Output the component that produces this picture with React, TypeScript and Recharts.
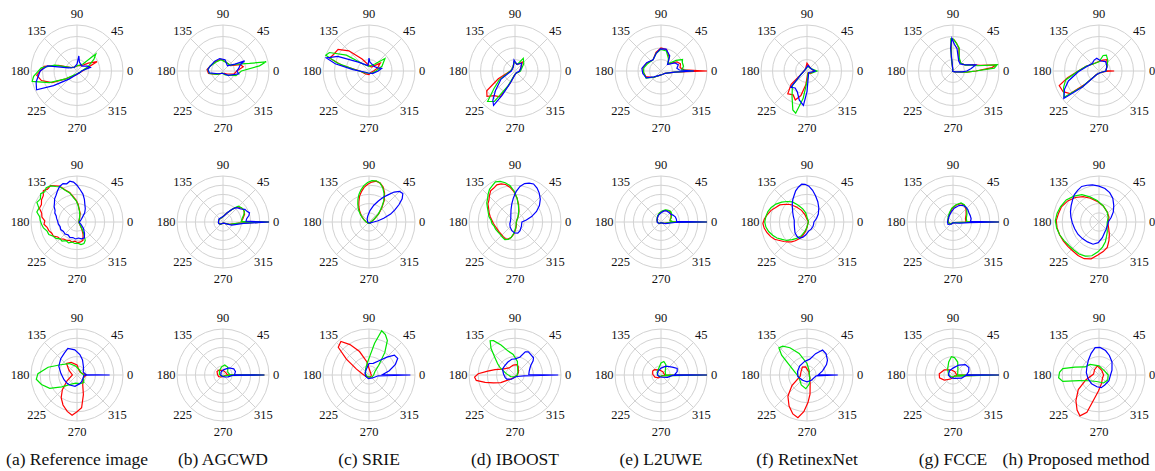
import React from "react";
import { RadarChart, Radar, PolarGrid, PolarAngleAxis, PolarRadiusAxis } from "recharts";

// each point: [angle in degrees, radius as share of the outer ring]
type Pt = [number, number];

const CAPTIONS = [
  "(a) Reference image",
  "(b) AGCWD",
  "(c) SRIE",
  "(d) IBOOST",
  "(e) L2UWE",
  "(f) RetinexNet",
  "(g) FCCE",
  "(h) Proposed method",
];
const ANGLE_TICKS = [0, 45, 90, 135, 180, 225, 270, 315];
const RINGS_TOP = [0.25, 0.5, 0.75, 1];
const RINGS = [0.2, 0.4, 0.6, 0.8, 1];

// ---- row 1 ----
const a1Red: Pt[] = [[0,0.12],[15,0.2],[25,0.48],[35,0.3],[50,0.15],[80,0.12],[120,0.1],[150,0.15],[163,0.42],[172,0.72],[180,0.8],[186,0.88],[195,0.8],[205,0.6],[215,0.3],[230,0.15],[260,0.08],[300,0.06],[340,0.08]];
const a1Green: Pt[] = [[0,0.1],[20,0.25],[35,0.45],[42,0.55],[50,0.2],[80,0.12],[120,0.1],[150,0.15],[165,0.5],[175,0.78],[187,0.95],[193,1.0],[203,0.65],[215,0.3],[230,0.12],[270,0.06],[320,0.06]];
const a1Blue: Pt[] = [[0,0.1],[15,0.3],[25,0.25],[45,0.15],[75,0.2],[83,0.33],[90,0.15],[130,0.1],[160,0.2],[170,0.65],[180,0.8],[195,0.92],[205,0.97],[212,0.6],[225,0.25],[250,0.1],[300,0.06],[340,0.08]];

const b1Red: Pt[] = [[0,0.3],[12,0.45],[20,0.4],[35,0.2],[70,0.2],[100,0.26],[130,0.26],[160,0.3],[175,0.35],[190,0.32],[210,0.15],[260,0.05],[320,0.1],[345,0.25]];
const b1Green: Pt[] = [[0,0.4],[8,0.8],[12,0.96],[16,0.6],[25,0.35],[40,0.2],[70,0.2],[100,0.25],[130,0.25],[160,0.3],[175,0.33],[190,0.3],[210,0.15],[250,0.05],[300,0.1],[340,0.3]];
const b1Blue: Pt[] = [[0,0.3],[10,0.35],[20,0.4],[25,0.52],[30,0.3],[50,0.15],[80,0.25],[105,0.28],[130,0.28],[160,0.3],[174,0.33],[188,0.3],[210,0.12],[260,0.05],[320,0.15],[350,0.35]];

const c1Red: Pt[] = [[0,0.1],[20,0.2],[35,0.3],[60,0.1],[90,0.12],[120,0.3],[135,0.62],[145,0.82],[155,0.85],[162,0.9],[168,0.6],[180,0.2],[220,0.1],[270,0.08],[320,0.05]];
const c1Green: Pt[] = [[0,0.15],[20,0.3],[38,0.44],[50,0.2],[90,0.1],[130,0.2],[145,0.6],[155,0.95],[160,1.0],[166,0.7],[175,0.3],[200,0.1],[260,0.05],[320,0.08]];
const c1Blue: Pt[] = [[0,0.2],[12,0.28],[20,0.2],[40,0.15],[85,0.2],[90,0.28],[100,0.12],[140,0.3],[155,0.75],[163,0.97],[168,0.75],[175,0.35],[200,0.08],[260,0.05],[330,0.1]];

const d1Red: Pt[] = [[0,0.1],[30,0.15],[50,0.25],[70,0.15],[95,0.2],[130,0.08],[180,0.1],[205,0.4],[215,0.75],[222,0.82],[230,0.7],[240,0.65],[248,0.3],[260,0.1],[300,0.05],[340,0.08]];
const d1Green: Pt[] = [[0,0.12],[40,0.25],[57,0.33],[70,0.15],[95,0.2],[130,0.08],[180,0.1],[210,0.4],[220,0.6],[228,0.89],[236,0.8],[245,0.35],[260,0.1],[300,0.05],[340,0.08]];
const d1Blue: Pt[] = [[0,0.1],[30,0.15],[50,0.22],[75,0.15],[95,0.24],[110,0.1],[180,0.08],[210,0.35],[225,0.6],[233,0.8],[238,0.88],[242,0.6],[250,0.25],[270,0.08],[320,0.05]];

const e1Red: Pt[] = [[0,1.0],[3,0.5],[10,0.42],[20,0.45],[30,0.4],[45,0.22],[60,0.35],[75,0.48],[90,0.5],[105,0.42],[125,0.3],[150,0.35],[170,0.4],[185,0.38],[200,0.35],[220,0.22],[250,0.1],[290,0.08],[330,0.1],[355,0.3]];
const e1Green: Pt[] = [[0,0.7],[3,0.45],[12,0.5],[22,0.5],[28,0.53],[35,0.4],[45,0.22],[60,0.32],[75,0.45],[90,0.47],[105,0.4],[125,0.3],[150,0.33],[170,0.38],[185,0.38],[205,0.36],[222,0.2],[250,0.1],[290,0.08],[330,0.1],[355,0.3]];
const e1Blue: Pt[] = [[0,0.72],[3,0.4],[10,0.35],[20,0.4],[30,0.35],[45,0.2],[60,0.38],[77,0.49],[92,0.48],[105,0.4],[125,0.3],[150,0.36],[172,0.42],[188,0.4],[205,0.35],[220,0.2],[250,0.1],[290,0.08],[330,0.1],[355,0.3]];

const f1Red: Pt[] = [[0,0.15],[40,0.1],[90,0.17],[130,0.05],[200,0.1],[220,0.45],[230,0.65],[240,0.6],[248,0.68],[256,0.55],[265,0.3],[290,0.05],[330,0.1]];
const f1Green: Pt[] = [[0,0.22],[20,0.12],[80,0.1],[140,0.05],[210,0.15],[225,0.45],[240,0.65],[250,0.9],[255,0.95],[262,0.6],[272,0.2],[300,0.05],[340,0.12]];
const f1Blue: Pt[] = [[0,0.18],[30,0.1],[80,0.12],[150,0.05],[210,0.15],[225,0.5],[235,0.45],[245,0.5],[255,0.65],[264,0.75],[270,0.45],[280,0.15],[320,0.05],[350,0.12]];

const g1Red: Pt[] = [[0,0.5],[5,0.85],[8,0.95],[12,0.6],[18,0.45],[25,0.3],[45,0.24],[65,0.3],[75,0.5],[82,0.6],[88,0.68],[93,0.7],[97,0.3],[100,0.02],[180,0.01],[270,0.01],[340,0.05],[355,0.3]];
const g1Green: Pt[] = [[0,0.5],[4,0.9],[8,0.97],[12,0.55],[18,0.42],[25,0.3],[45,0.24],[65,0.32],[75,0.52],[84,0.62],[90,0.7],[94,0.7],[97,0.3],[100,0.02],[180,0.01],[270,0.01],[340,0.05],[355,0.3]];
const g1Blue: Pt[] = [[0,0.3],[8,0.4],[15,0.51],[22,0.35],[30,0.28],[45,0.22],[60,0.25],[72,0.35],[80,0.5],[87,0.58],[92,0.71],[96,0.5],[98,0.02],[180,0.01],[270,0.01],[340,0.05],[355,0.2]];

const h1Red: Pt[] = [[0,0.33],[3,0.15],[30,0.2],[55,0.3],[70,0.25],[100,0.2],[130,0.2],[160,0.3],[180,0.45],[192,0.7],[200,0.92],[210,0.9],[218,0.8],[224,0.4],[235,0.1],[270,0.05],[320,0.05],[357,0.15]];
const h1Green: Pt[] = [[0,0.15],[30,0.2],[50,0.3],[65,0.38],[75,0.35],[90,0.2],[130,0.2],[160,0.3],[180,0.45],[195,0.75],[205,0.85],[212,0.9],[217,0.95],[223,0.5],[235,0.1],[270,0.05],[320,0.05]];
const h1Blue: Pt[] = [[0,0.15],[30,0.2],[55,0.25],[80,0.22],[100,0.28],[114,0.26],[130,0.22],[160,0.28],[182,0.45],[198,0.7],[208,0.85],[218,0.97],[224,0.5],[235,0.1],[270,0.05],[320,0.05]];

// ---- row 2 ----
const a2Red: Pt[] = [[0,0.04],[20,0.05],[40,0.06],[60,0.12],[70,0.2],[78,0.26],[86,0.38],[92,0.47],[98,0.55],[104,0.66],[110,0.74],[116,0.87],[121,0.92],[126,0.98],[132,0.96],[137,1.0],[142,0.93],[148,0.91],[154,0.86],[160,0.87],[166,0.79],[172,0.77],[178,0.7],[184,0.72],[190,0.66],[197,0.64],[204,0.6],[211,0.6],[218,0.53],[225,0.52],[232,0.47],[240,0.46],[248,0.43],[256,0.45],[264,0.42],[272,0.45],[280,0.44],[288,0.42],[296,0.3],[305,0.18],[318,0.08],[340,0.05]];
const a2Green: Pt[] = [[0,0.04],[20,0.05],[40,0.06],[60,0.11],[70,0.18],[78,0.25],[86,0.36],[92,0.46],[98,0.53],[104,0.65],[110,0.73],[116,0.85],[121,0.9],[126,0.97],[132,1.0],[137,0.96],[142,1.0],[148,0.94],[154,0.97],[160,0.88],[166,0.9],[172,0.82],[178,0.8],[184,0.77],[190,0.74],[197,0.68],[204,0.67],[211,0.6],[218,0.58],[225,0.52],[232,0.53],[240,0.47],[248,0.49],[256,0.45],[264,0.47],[272,0.46],[280,0.5],[288,0.49],[294,0.44],[302,0.26],[315,0.1],[340,0.05]];
const a2Blue: Pt[] = [[0,0.05],[20,0.08],[38,0.14],[50,0.26],[58,0.34],[66,0.42],[72,0.52],[78,0.62],[84,0.7],[90,0.8],[95,0.87],[100,0.9],[105,0.86],[110,0.89],[116,0.86],[122,0.8],[128,0.74],[134,0.7],[140,0.64],[146,0.6],[152,0.54],[158,0.52],[164,0.47],[170,0.45],[178,0.42],[186,0.41],[195,0.38],[205,0.39],[215,0.36],[225,0.37],[235,0.34],[245,0.37],[255,0.35],[265,0.37],[275,0.35],[285,0.38],[295,0.38],[303,0.3],[315,0.2],[330,0.1],[350,0.05]];

const b2Red: Pt[] = [[0,1.0],[2,0.4],[10,0.44],[20,0.5],[30,0.52],[38,0.5],[45,0.46],[52,0.38],[65,0.22],[80,0.14],[100,0.1],[130,0.1],[160,0.1],[190,0.1],[220,0.08],[260,0.03],[300,0.03],[340,0.15],[356,0.35]];
const b2Green: Pt[] = [[0,1.0],[2,0.4],[10,0.42],[18,0.47],[26,0.52],[34,0.52],[40,0.5],[46,0.48],[52,0.38],[65,0.22],[80,0.14],[100,0.1],[130,0.1],[160,0.1],[190,0.1],[220,0.08],[260,0.03],[300,0.03],[340,0.15],[356,0.35]];
const b2Blue: Pt[] = [[0,1.0],[2,0.5],[8,0.52],[14,0.58],[19,0.61],[24,0.57],[30,0.55],[36,0.48],[42,0.45],[48,0.42],[55,0.33],[65,0.22],[80,0.14],[100,0.11],[120,0.1],[140,0.11],[160,0.1],[180,0.1],[200,0.1],[220,0.07],[250,0.03],[300,0.03],[340,0.2],[356,0.45]];

const c2Red: Pt[] = [[0,0.04],[20,0.08],[30,0.14],[40,0.28],[48,0.42],[55,0.58],[62,0.72],[68,0.82],[74,0.88],[80,0.9],[86,0.87],[92,0.82],[98,0.76],[104,0.68],[110,0.6],[116,0.5],[122,0.42],[130,0.32],[140,0.22],[155,0.12],[180,0.06],[230,0.03],[290,0.03],[340,0.04]];
const c2Green: Pt[] = [[0,0.04],[20,0.08],[30,0.13],[40,0.26],[48,0.4],[55,0.56],[62,0.7],[68,0.8],[74,0.88],[80,0.91],[86,0.9],[92,0.86],[98,0.8],[104,0.72],[110,0.64],[116,0.55],[122,0.46],[130,0.36],[140,0.24],[155,0.13],[180,0.06],[230,0.03],[290,0.03],[340,0.04]];
const c2Blue: Pt[] = [[0,0.1],[8,0.2],[14,0.33],[20,0.5],[25,0.62],[30,0.75],[35,0.88],[40,0.96],[45,0.94],[50,0.85],[55,0.72],[60,0.62],[66,0.5],[74,0.38],[85,0.25],[100,0.14],[120,0.08],[180,0.03],[270,0.02],[330,0.04]];

const d2Red: Pt[] = [[0,0.03],[40,0.05],[60,0.14],[70,0.25],[78,0.38],[85,0.52],[92,0.66],[98,0.76],[104,0.84],[110,0.88],[116,0.9],[122,0.87],[128,0.86],[134,0.8],[140,0.74],[146,0.71],[152,0.65],[160,0.6],[168,0.55],[176,0.5],[184,0.47],[192,0.44],[200,0.42],[210,0.41],[220,0.4],[230,0.41],[240,0.42],[248,0.4],[256,0.35],[265,0.26],[278,0.14],[295,0.07],[320,0.04]];
const d2Green: Pt[] = [[0,0.03],[40,0.05],[60,0.13],[70,0.24],[78,0.36],[85,0.52],[92,0.68],[98,0.8],[104,0.88],[110,0.94],[116,0.97],[122,0.93],[128,0.9],[134,0.84],[140,0.78],[146,0.74],[152,0.68],[160,0.62],[168,0.58],[176,0.52],[184,0.5],[192,0.46],[200,0.45],[210,0.43],[220,0.42],[230,0.43],[240,0.44],[248,0.41],[256,0.35],[265,0.24],[278,0.12],[295,0.06],[320,0.03]];
const d2Blue: Pt[] = [[0,0.15],[10,0.25],[18,0.38],[26,0.52],[34,0.64],[42,0.74],[50,0.82],[57,0.88],[64,0.92],[70,0.9],[76,0.86],[82,0.78],[88,0.66],[94,0.52],[100,0.4],[108,0.28],[120,0.18],[140,0.12],[170,0.1],[200,0.12],[225,0.15],[250,0.2],[268,0.24],[284,0.25],[300,0.22],[325,0.17],[345,0.15]];

const e2Red: Pt[] = [[0,1.0],[2,0.24],[10,0.2],[25,0.24],[40,0.28],[50,0.3],[58,0.29],[70,0.27],[85,0.23],[100,0.19],[120,0.14],[150,0.1],[180,0.08],[220,0.05],[260,0.02],[300,0.02],[340,0.08],[358,0.2]];
const e2Green: Pt[] = [[0,1.0],[2,0.25],[10,0.2],[25,0.25],[40,0.3],[50,0.31],[58,0.3],[70,0.28],[85,0.24],[100,0.2],[120,0.15],[150,0.1],[180,0.08],[220,0.05],[260,0.02],[300,0.02],[340,0.08],[358,0.2]];
const e2Blue: Pt[] = [[0,1.0],[2,0.34],[10,0.34],[20,0.33],[30,0.3],[40,0.27],[50,0.27],[63,0.27],[75,0.25],[90,0.2],[110,0.16],[130,0.12],[160,0.09],[190,0.08],[220,0.05],[260,0.02],[300,0.02],[340,0.1],[358,0.3]];

const f2Red: Pt[] = [[0,0.03],[45,0.03],[90,0.06],[105,0.16],[115,0.28],[125,0.4],[133,0.52],[140,0.6],[148,0.7],[155,0.75],[162,0.82],[170,0.88],[176,0.93],[182,0.96],[188,0.94],[195,0.9],[202,0.85],[208,0.8],[214,0.72],[220,0.66],[226,0.6],[232,0.55],[238,0.48],[245,0.4],[252,0.32],[260,0.22],[270,0.12],[290,0.05],[320,0.03]];
const f2Green: Pt[] = [[0,0.03],[45,0.04],[85,0.08],[98,0.2],[108,0.3],[118,0.42],[126,0.54],[134,0.62],[142,0.7],[150,0.78],[158,0.84],[165,0.88],[172,0.9],[180,0.92],[187,0.9],[194,0.86],[201,0.8],[208,0.74],[215,0.66],[222,0.6],[230,0.5],[238,0.42],[248,0.32],[258,0.2],[268,0.12],[290,0.05],[320,0.03]];
const f2Blue: Pt[] = [[0,0.15],[20,0.22],[35,0.3],[50,0.4],[62,0.5],[72,0.6],[80,0.7],[87,0.78],[93,0.82],[98,0.83],[104,0.78],[110,0.72],[116,0.64],[122,0.58],[128,0.52],[135,0.45],[145,0.38],[158,0.32],[172,0.28],[188,0.28],[205,0.3],[222,0.35],[235,0.38],[245,0.39],[255,0.34],[265,0.28],[280,0.2],[300,0.18],[325,0.16],[345,0.15]];

const g2Red: Pt[] = [[0,1.0],[2,0.28],[15,0.28],[30,0.33],[45,0.4],[57,0.44],[67,0.44],[80,0.37],[95,0.28],[110,0.2],[130,0.15],[160,0.11],[190,0.1],[220,0.06],[260,0.02],[320,0.02],[358,0.2]];
const g2Green: Pt[] = [[0,1.0],[2,0.3],[15,0.3],[30,0.35],[45,0.42],[57,0.45],[67,0.45],[80,0.38],[95,0.3],[110,0.22],[130,0.16],[160,0.12],[190,0.1],[220,0.06],[260,0.02],[320,0.02],[358,0.2]];
const g2Blue: Pt[] = [[0,1.0],[2,0.38],[10,0.4],[20,0.4],[30,0.4],[40,0.42],[50,0.43],[60,0.42],[70,0.38],[85,0.3],[100,0.22],[120,0.16],[150,0.12],[180,0.12],[205,0.12],[230,0.06],[270,0.02],[320,0.03],[350,0.15],[358,0.35]];

const h2Red: Pt[] = [[0,0.2],[25,0.24],[50,0.28],[75,0.36],[95,0.45],[110,0.55],[122,0.65],[134,0.74],[146,0.82],[158,0.88],[168,0.9],[178,0.93],[188,0.92],[198,0.9],[208,0.88],[218,0.86],[228,0.85],[238,0.86],[248,0.86],[258,0.82],[268,0.72],[278,0.65],[288,0.58],[298,0.46],[310,0.35],[330,0.24],[348,0.2]];
const h2Green: Pt[] = [[0,0.18],[25,0.22],[50,0.28],[75,0.36],[95,0.47],[110,0.58],[122,0.7],[134,0.78],[146,0.86],[158,0.9],[168,0.93],[178,0.95],[188,0.93],[198,0.9],[208,0.86],[218,0.83],[228,0.82],[238,0.82],[248,0.8],[258,0.75],[268,0.65],[278,0.55],[288,0.45],[298,0.35],[310,0.28],[330,0.2],[348,0.18]];
const h2Blue: Pt[] = [[0,0.2],[20,0.28],[35,0.38],[48,0.48],[60,0.6],[70,0.68],[80,0.74],[90,0.78],[100,0.82],[108,0.84],[116,0.86],[124,0.83],[132,0.8],[140,0.75],[150,0.7],[160,0.66],[170,0.62],[182,0.58],[195,0.55],[210,0.53],[225,0.51],[240,0.5],[255,0.5],[268,0.45],[282,0.35],[298,0.26],[315,0.22],[335,0.2],[350,0.2]];

// ---- row 3 ----
const a3Red: Pt[] = [[0,0.2],[30,0.1],[60,0.1],[90,0.22],[115,0.3],[132,0.34],[150,0.2],[180,0.1],[210,0.25],[225,0.45],[235,0.6],[245,0.72],[255,0.82],[263,0.88],[270,0.8],[278,0.72],[288,0.45],[300,0.25],[330,0.15]];
const a3Green: Pt[] = [[0,0.15],[30,0.1],[60,0.12],[100,0.2],[124,0.3],[148,0.42],[165,0.65],[178,0.85],[186,0.89],[195,0.8],[206,0.66],[218,0.42],[235,0.25],[260,0.18],[290,0.2],[312,0.22],[340,0.15]];
const a3Blue: Pt[] = [[0,0.71],[2,0.2],[25,0.15],[50,0.22],[70,0.35],[82,0.45],[95,0.55],[109,0.61],[120,0.55],[135,0.5],[154,0.44],[175,0.35],[200,0.3],[220,0.28],[234,0.27],[260,0.25],[285,0.2],[303,0.18],[330,0.15],[358,0.15]];

const b3Red: Pt[] = [[0,0.9],[2,0.1],[40,0.08],[90,0.1],[130,0.14],[150,0.15],[175,0.12],[200,0.1],[240,0.05],[300,0.03],[350,0.05]];
const b3Green: Pt[] = [[0,0.9],[2,0.15],[30,0.12],[60,0.2],[80,0.22],[100,0.18],[130,0.12],[170,0.08],[220,0.04],[300,0.03],[350,0.08]];
const b3Blue: Pt[] = [[0,0.9],[2,0.25],[15,0.28],[30,0.27],[50,0.2],[80,0.12],[120,0.08],[180,0.05],[240,0.03],[300,0.05],[340,0.12],[358,0.2]];

const c3Red: Pt[] = [[0,0.05],[40,0.05],[80,0.1],[100,0.3],[112,0.55],[122,0.78],[130,0.95],[138,0.9],[145,0.6],[155,0.3],[170,0.15],[200,0.08],[250,0.05],[300,0.05],[340,0.05]];
const c3Green: Pt[] = [[0,0.1],[30,0.15],[45,0.3],[55,0.6],[62,0.85],[68,0.95],[74,1.0],[80,0.7],[88,0.4],[100,0.25],[120,0.15],[160,0.08],[220,0.05],[290,0.05],[330,0.08]];
const c3Blue: Pt[] = [[0,0.9],[2,0.3],[12,0.45],[22,0.62],[30,0.72],[38,0.7],[45,0.55],[55,0.38],[70,0.27],[90,0.25],[110,0.15],[150,0.1],[200,0.08],[260,0.08],[320,0.1],[355,0.2]];

const d3Red: Pt[] = [[0,0.05],[40,0.1],[70,0.2],[81,0.23],[100,0.22],[130,0.2],[155,0.3],[165,0.45],[172,0.6],[178,0.8],[183,0.88],[188,0.85],[194,0.67],[200,0.5],[208,0.35],[220,0.15],[260,0.05],[320,0.03]];
const d3Green: Pt[] = [[0,0.05],[40,0.08],[80,0.3],[95,0.45],[106,0.54],[115,0.72],[122,0.88],[126,0.92],[132,0.78],[139,0.58],[147,0.45],[154,0.36],[170,0.2],[200,0.1],[250,0.04],[310,0.03]];
const d3Blue: Pt[] = [[0,0.94],[2,0.3],[15,0.32],[25,0.36],[31,0.4],[38,0.5],[43,0.55],[52,0.56],[60,0.58],[66,0.55],[75,0.4],[90,0.35],[102,0.35],[120,0.32],[140,0.3],[155,0.3],[175,0.25],[195,0.22],[207,0.2],[230,0.12],[270,0.05],[320,0.05],[355,0.2]];

const e3Red: Pt[] = [[0,1.0],[2,0.08],[60,0.08],[110,0.12],[140,0.18],[155,0.2],[175,0.18],[200,0.14],[230,0.08],[280,0.03],[330,0.03]];
const e3Green: Pt[] = [[0,1.0],[2,0.1],[40,0.12],[65,0.25],[78,0.3],[90,0.26],[110,0.15],[150,0.1],[200,0.06],[260,0.03],[320,0.03]];
const e3Blue: Pt[] = [[0,1.0],[2,0.3],[12,0.36],[22,0.38],[35,0.3],[60,0.22],[90,0.15],[130,0.1],[180,0.08],[230,0.05],[290,0.05],[340,0.15],[358,0.25]];

const f3Red: Pt[] = [[0,0.05],[60,0.08],[100,0.18],[120,0.2],[150,0.15],[190,0.15],[215,0.4],[228,0.62],[240,0.78],[250,0.9],[258,0.95],[265,0.8],[272,0.6],[279,0.42],[290,0.2],[320,0.08]];
const f3Green: Pt[] = [[0,0.05],[60,0.1],[90,0.25],[110,0.5],[122,0.7],[130,0.82],[136,0.85],[142,0.7],[153,0.4],[170,0.25],[200,0.18],[240,0.25],[265,0.3],[285,0.2],[320,0.08]];
const f3Blue: Pt[] = [[0,0.67],[2,0.25],[15,0.35],[28,0.48],[36,0.55],[48,0.62],[58,0.64],[68,0.5],[80,0.35],[100,0.3],[130,0.25],[160,0.22],[190,0.2],[230,0.15],[270,0.15],[310,0.15],[355,0.2]];

const g3Red: Pt[] = [[0,1.0],[2,0.08],[60,0.08],[110,0.12],[150,0.22],[175,0.3],[192,0.3],[210,0.22],[240,0.1],[290,0.04],[330,0.04]];
const g3Green: Pt[] = [[0,1.0],[2,0.1],[45,0.15],[70,0.3],[85,0.38],[95,0.4],[108,0.3],[130,0.18],[170,0.1],[220,0.06],[280,0.04],[330,0.05]];
const g3Blue: Pt[] = [[0,1.0],[2,0.3],[12,0.35],[25,0.38],[40,0.35],[60,0.25],[90,0.15],[130,0.12],[180,0.1],[230,0.08],[290,0.08],[340,0.2],[358,0.28]];

const h3Red: Pt[] = [[0,0.1],[60,0.12],[100,0.2],[130,0.15],[170,0.12],[200,0.3],[215,0.55],[228,0.75],[238,0.9],[245,0.98],[252,0.85],[258,0.55],[268,0.35],[285,0.2],[320,0.1]];
const h3Green: Pt[] = [[0,0.2],[40,0.15],[90,0.2],[130,0.3],[150,0.35],[162,0.55],[170,0.8],[176,0.86],[184,0.88],[190,0.8],[196,0.45],[210,0.25],[250,0.15],[300,0.2],[330,0.22]];
const h3Blue: Pt[] = [[0,0.25],[20,0.3],[45,0.4],[62,0.48],[75,0.55],[88,0.6],[98,0.6],[110,0.5],[125,0.4],[145,0.32],[170,0.28],[200,0.25],[230,0.25],[260,0.26],[280,0.28],[300,0.25],[330,0.25]];

const ROWS: Pt[][][][] = [
  [[a1Red, a1Green, a1Blue], [b1Red, b1Green, b1Blue], [c1Red, c1Green, c1Blue], [d1Red, d1Green, d1Blue],
   [e1Red, e1Green, e1Blue], [f1Red, f1Green, f1Blue], [g1Red, g1Green, g1Blue], [h1Red, h1Green, h1Blue]],
  [[a2Red, a2Green, a2Blue], [b2Red, b2Green, b2Blue], [c2Red, c2Green, c2Blue], [d2Red, d2Green, d2Blue],
   [e2Red, e2Green, e2Blue], [f2Red, f2Green, f2Blue], [g2Red, g2Green, g2Blue], [h2Red, h2Green, h2Blue]],
  [[a3Red, a3Green, a3Blue], [b3Red, b3Green, b3Blue], [c3Red, c3Green, c3Blue], [d3Red, d3Green, d3Blue],
   [e3Red, e3Green, e3Blue], [f3Red, f3Green, f3Blue], [g3Red, g3Green, g3Blue], [h3Red, h3Green, h3Blue]],
];

const COLORS = ["#ff0000", "#00e600", "#0000ff"];
const COL_X = [77, 223, 369, 515, 661, 807, 953, 1099];
const ROW_Y = [71, 222, 375];
const W = 146;
const H = 152;
const CX = 73;
const CY = 76;
const RAD = 46;
const SERIF = "Liberation Serif, DejaVu Serif, serif";

const AngleTick = (props: any) => {
  const a = Number(props.payload?.value);
  if (!(a >= 0 && a < 360)) return <g />;
  const t = (a * Math.PI) / 180;
  const d = a === 0 ? 53 : 57;
  return (
    <text
      x={CX + d * Math.cos(t)}
      y={CY - d * Math.sin(t)}
      textAnchor="middle"
      dominantBaseline="central"
      style={{ fontFamily: SERIF, fontSize: 12.5, fill: "#111" }}
    >
      {a}
    </text>
  );
};

function Layer({ pts, color, rings }: { pts: Pt[]; color: string; rings?: number[] }) {
  const data = pts.map(([a, r]) => ({ a, r }));
  return (
    <div style={{ position: "absolute", left: 0, top: 0 }}>
      <RadarChart
        width={W}
        height={H}
        cx={CX}
        cy={CY}
        outerRadius={RAD}
        startAngle={0}
        endAngle={360}
        data={data}
        margin={{ top: 0, right: 0, bottom: 0, left: 0 }}
      >
        {rings && (
          <PolarGrid
            gridType="circle"
            polarAngles={ANGLE_TICKS}
            polarRadius={rings.map((f) => f * RAD)}
            stroke="#d2d2d2"
          />
        )}
        <PolarAngleAxis
          dataKey="a"
          type="number"
          domain={[0, 360]}
          ticks={ANGLE_TICKS as any}
          tickCount={9}
          tick={rings ? AngleTick : false}
          axisLine={false}
          tickLine={false}
        />
        <PolarRadiusAxis type="number" domain={[0, 1]} tick={false} axisLine={false} />
        <Radar
          dataKey="r"
          stroke={color}
          strokeWidth={1.2}
          fill="none"
          fillOpacity={0}
          dot={false}
          isAnimationActive={false}
        />
      </RadarChart>
    </div>
  );
}

export default function App() {
  return (
    <div
      style={{
        position: "absolute",
        left: 0,
        top: 0,
        width: 1155,
        height: 471,
        background: "#fff",
        overflow: "hidden",
        fontFamily: SERIF,
      }}
    >
      {ROWS.map((row, ri) =>
        row.map((series, ci) => (
          <div
            key={`p-${ri}-${ci}`}
            style={{ position: "absolute", left: COL_X[ci] - CX, top: ROW_Y[ri] - CY, width: W, height: H }}
          >
            {series.map((pts, si) => (
              <Layer
                key={si}
                pts={pts}
                color={COLORS[si]}
                rings={si === 0 ? (ri === 0 ? RINGS_TOP : RINGS) : undefined}
              />
            ))}
          </div>
        ))
      )}
      {CAPTIONS.map((c, i) => (
        <div
          key={c}
          style={{
            position: "absolute",
            top: 449,
            left: Math.min(COL_X[i], 1076),
            transform: "translateX(-50%)",
            whiteSpace: "nowrap",
            fontFamily: SERIF,
            fontSize: 17.5,
            lineHeight: "20px",
            color: "#111",
          }}
        >
          {c}
        </div>
      ))}
    </div>
  );
}
